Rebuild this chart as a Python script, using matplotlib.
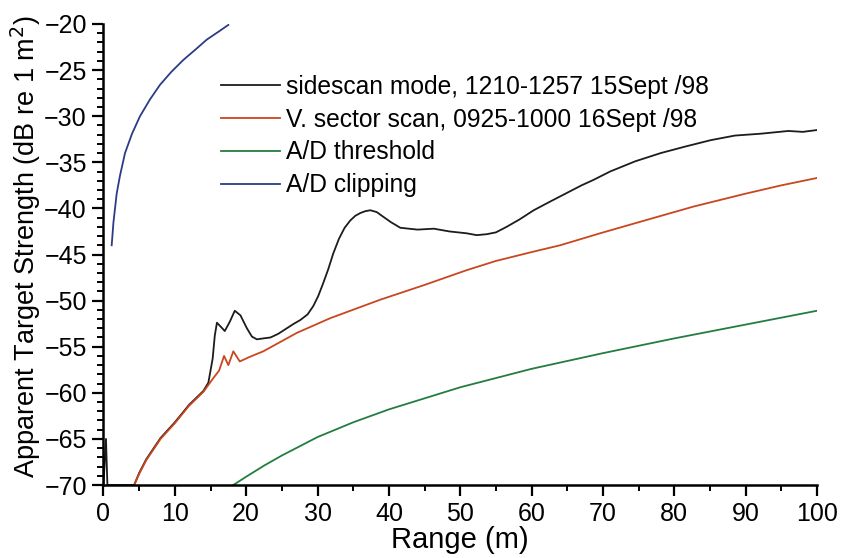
import numpy as np
import matplotlib
matplotlib.use("Agg")
import matplotlib.pyplot as plt

plt.rcParams["font.family"] = ["Liberation Sans", "DejaVu Sans"]

# sidescan mode, 1210-1257 15 Sept 98
side_x = [0.0, 0.35, 0.55, 4.3, 5.0, 6.0, 8.0, 10.0, 12.0, 14.0, 14.7, 15.3, 15.6,
          15.9, 16.4, 17.0, 17.7, 18.4, 19.2, 20.1, 20.8, 21.5, 22.4, 23.4, 24.5,
          25.7, 26.7, 27.6, 28.6, 29.4, 30.1, 30.8, 31.5, 32.2, 33.0, 33.8, 34.6,
          35.3, 36.0, 36.7, 37.4, 38.3, 39.2, 40.3, 41.6, 44.0, 46.3, 48.5, 50.9,
          52.3, 53.7, 55.0, 56.5, 58.3, 60.3, 62.5, 65.0, 67.0, 68.7, 71.0, 74.5,
          78.1, 81.5, 85.1, 88.5, 92.1, 96.0, 98.0, 100.0]
side_y = [-70.0, -65.0, -70.0, -70.0, -68.7, -67.2, -64.9, -63.2, -61.3, -59.8, -58.9,
          -56.3, -53.8, -52.4, -52.8, -53.3, -52.3, -51.1, -51.6, -53.0, -53.9, -54.2,
          -54.1, -54.0, -53.6, -53.0, -52.5, -52.1, -51.5, -50.6, -49.5, -48.1, -46.6,
          -44.9, -43.3, -42.1, -41.3, -40.8, -40.5, -40.3, -40.2, -40.4, -40.9, -41.5,
          -42.1, -42.3, -42.2, -42.5, -42.7, -42.9, -42.8, -42.6, -42.0, -41.2, -40.2,
          -39.3, -38.3, -37.5, -36.9, -36.0, -34.9, -34.0, -33.3, -32.6, -32.1, -31.9,
          -31.6, -31.7, -31.5]

# V. sector scan, 0925-1000 16 Sept 98
sector_x = [4.3, 5.0, 6.0, 8.0, 10.0, 12.0, 14.0, 15.4, 16.2, 16.9, 17.5, 18.2, 19.1,
            20.5, 22.4, 27.1, 31.8, 38.8, 45.0, 50.9, 55.0, 60.2, 64.0, 69.6, 75.0,
            82.7, 90.0, 95.0, 100.0]
sector_y = [-70.0, -68.8, -67.3, -65.0, -63.3, -61.4, -59.9, -58.4, -57.6, -56.0, -57.0,
            -55.5, -56.6, -56.1, -55.5, -53.5, -51.9, -49.9, -48.3, -46.7, -45.7, -44.7,
            -44.0, -42.7, -41.5, -39.8, -38.4, -37.5, -36.7]

# A/D threshold
thresh_x = [18.2, 20.0, 22.5, 25.0, 30.0, 35.0, 40.0, 50.0, 60.0, 70.0, 80.0, 90.0, 100.0]
thresh_y = [-70.0, -69.1, -67.9, -66.8, -64.8, -63.2, -61.8, -59.4, -57.4, -55.7, -54.1,
            -52.6, -51.1]

# A/D clipping
clip_x = [1.15, 1.4, 1.85, 2.3, 3.02, 4.0, 5.12, 6.5, 7.92, 9.5, 11.19, 13.0, 14.47,
          16.0, 17.5]
clip_y = [-44.0, -41.5, -38.4, -36.5, -34.0, -31.9, -30.0, -28.2, -26.6, -25.2, -23.9,
          -22.7, -21.7, -20.9, -20.1]

labels = [
    "sidescan mode, 1210-1257 15Sept /98",
    "V. sector scan, 0925-1000 16Sept /98",
    "A/D threshold",
    "A/D clipping",
]
colors = ["#1c1c1c", "#c9461f", "#237d3e", "#2b3c86"]


def main():
    fig = plt.figure(figsize=(8.44, 5.58), dpi=100)
    ax = fig.add_axes([0.1226, 0.1308, 0.8454, 0.8262])

    series = [(side_x, side_y), (sector_x, sector_y),
              (thresh_x, thresh_y), (clip_x, clip_y)]
    for (xs, ys), color, label in zip(series, colors, labels):
        ax.plot(xs, ys, color=color, linewidth=1.3, label=label)

    ax.set_xlim(0, 100)
    ax.set_ylim(-70, -20)
    ax.set_xticks(np.arange(0, 101, 10))
    ax.set_xticks(np.arange(5, 100, 10), minor=True)
    ax.set_yticks(np.arange(-70, -19, 5))
    ax.set_yticks(np.arange(-70, -19, 1), minor=True)

    ax.tick_params(which="major", direction="out", length=8, width=1.6,
                   labelsize=18, pad=4)
    ax.tick_params(which="minor", direction="out", length=4, width=1.4)

    for side in ["top", "right"]:
        ax.spines[side].set_visible(False)
    for side in ["left", "bottom"]:
        ax.spines[side].set_linewidth(1.8)

    ax.set_xlabel("Range (m)", fontsize=21, labelpad=0)
    ax.set_ylabel(r"Apparent Target Strength (dB re 1 m$^2$)", fontsize=19.5)
    ax.yaxis.set_label_coords(-0.085, 0.516)

    ax.legend(loc="upper left", bbox_to_anchor=(0.262, 0.866),
              bbox_transform=fig.transFigure, frameon=False, fontsize=17.7,
              handlelength=2.4, handletextpad=0.25, labelspacing=0.36,
              borderpad=0, borderaxespad=0)

    fig.savefig("out.png", dpi=100)
    plt.close(fig)


if __name__ == "__main__":
    main()
